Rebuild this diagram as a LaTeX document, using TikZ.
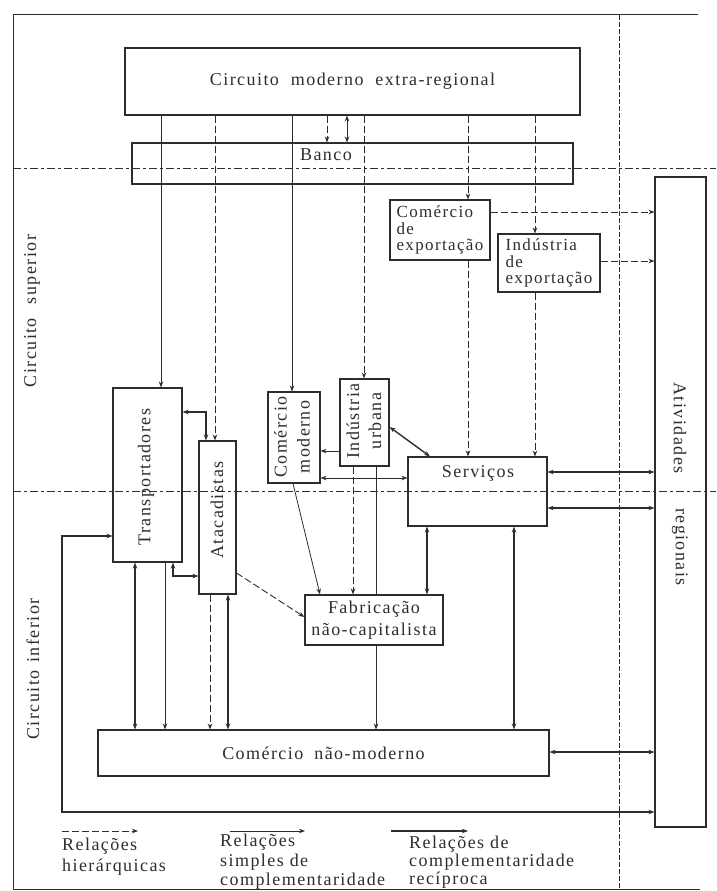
\documentclass[tikz,border=0pt]{standalone}
\usepackage{fontspec}
\setmainfont{Liberation Serif}[LetterSpace=8]
\usetikzlibrary{arrows.meta}
\definecolor{ink}{RGB}{45,45,45}
\tikzset{
  box/.style={draw=ink, line width=1.1pt, inner sep=0pt, text=ink, font=\fontsize{18}{16}\selectfont},
  lbl/.style={text=ink, inner sep=0pt, font=\fontsize{18}{20}\selectfont},
  tip/.tip={Stealth[length=6pt,width=4.5pt]},
  hier/.style={draw=ink, line width=0.9pt, dash pattern=on 7pt off 3pt, -tip},
  simp/.style={draw=ink, line width=0.8pt, -tip},
  plain/.style={draw=ink, line width=0.8pt},
  recip/.style={draw=ink, line width=1.4pt, tip-tip},
  recipone/.style={draw=ink, line width=1.4pt, -tip},
  divider/.style={draw=ink, line width=0.9pt, dash pattern=on 8pt off 3pt on 3pt off 3pt},
  vdivider/.style={draw=ink, line width=0.8pt, dash pattern=on 5pt off 2pt},
}
\begin{document}
\begin{tikzpicture}[x=1pt,y=-1pt]
\useasboundingbox (0,0) rectangle (716,891);
% frame
\draw[ink, line width=1pt] (698,15) -- (13,15) -- (13,889) -- (700,889);
% boxes
\node[box, minimum width=455, minimum height=67] (ext) at (352.5,81.5) {Circuito\hspace{6pt} moderno\hspace{6pt} extra-regional};
\node[box, minimum width=441, minimum height=41] (banco) at (352.5,163.5) {};
\node[lbl] (bancotxt) at (326,155) {Banco};
\node[box, minimum width=100, minimum height=60, align=left, font=\fontsize{17}{16.5}\selectfont] (comexp) at (440,230) {Comércio\\de\\exportação};
\node[box, minimum width=102, minimum height=58, align=left, font=\fontsize{17}{16.5}\selectfont] (indexp) at (549,263) {Indústria\\de\\exportação};
\node[box, minimum width=51, minimum height=650] (ativ) at (680.5,502) {};
\node[lbl, rotate=-90] (ativ1) at (680,428) {Atividades};
\node[lbl, rotate=-90] (ativ2) at (680,547) {regionais};
\node[box, minimum width=69, minimum height=174] (trans) at (147.5,475) {};
\node[lbl, rotate=90] (transtxt) at (146,477) {Transportadores};
\node[box, minimum width=37, minimum height=153] (atac) at (217.5,517.5) {};
\node[lbl, rotate=90] (atactxt) at (217,510) {Atacadistas};
\node[box, minimum width=52, minimum height=91] (commod) at (294,437.5) {};
\node[lbl, rotate=90, align=center, font=\fontsize{18}{23}\selectfont] (commodtxt) at (292,437) {Comércio\\moderno};
\node[box, minimum width=49, minimum height=87] (indurb) at (364.5,422.5) {};
\node[lbl, rotate=90, align=center, font=\fontsize{18}{22}\selectfont] (indurbtxt) at (364,421) {Indústria\\urbana};
\node[box, minimum width=139, minimum height=69] (serv) at (477.5,491.5) {};
\node[lbl] (servtxt) at (478,473) {Serviços};
\node[box, minimum width=138, minimum height=50, align=center, font=\fontsize{18}{22}\selectfont] (fab) at (374,620) {Fabricação\\não-capitalista};
\node[box, minimum width=451, minimum height=46] (comnm) at (323.5,753) {Comércio\hspace{5pt} não-moderno};
% side labels
\node[lbl, rotate=90] (csup) at (32,311) {Circuito\hspace{14pt}superior};
\node[lbl, rotate=90] (cinf) at (33,669) {Circuito\hspace{8pt}inferior};
% dividers
\coordinate (dl1) at (13,168); \coordinate (dr1) at (716,168);
\coordinate (dl2) at (13,491); \coordinate (dr2) at (716,491);
\coordinate (dt) at (619,15); \coordinate (db) at (619,889);
\draw[divider] (dl1) -- (dr1);
\draw[divider] (dl2) -- (dr2);
\draw[vdivider] (dt) -- (db);
% from extra-regional circuit
\draw[simp] (ext.south -| 161,0) -- (trans.north -| 161,0);
\draw[hier] (ext.south -| 215,0) -- (atac.north -| 215,0);
\draw[simp] (ext.south -| 292,0) -- (commod.north -| 292,0);
\draw[hier] (ext.south -| 364,0) -- (indurb.north -| 364,0);
\draw[hier] (ext.south -| 468,0) -- (comexp.north -| 468,0);
\draw[hier] (ext.south -| 535,0) -- (indexp.north -| 535,0);
\draw[hier] (ext.south -| 327,0) -- (banco.north -| 327,0);
\draw[recip, line width=1pt] (ext.south -| 347,0) -- (banco.north -| 347,0);
% export sector
\draw[hier] (comexp.south -| 468,0) -- (serv.north -| 468,0);
\draw[hier] (indexp.south -| 535,0) -- (serv.north -| 535,0);
\draw[hier] (comexp.east |- 0,212) -- (ativ.west |- 0,212);
\draw[hier] (indexp.east |- 0,261) -- (ativ.west |- 0,261);
% transportadores / atacadistas
\draw[recip] (trans.east |- 0,412) -| (atac.north -| 206,0);
\draw[recip] (trans.south -| 173,0) |- (atac.west |- 0,576);
\coordinate (loopA) at (62,536); \coordinate (loopB) at (62,812);
\draw[recip] (trans.west |- loopA) -- (loopA) -- (loopB) -- (ativ.west |- loopB);
\draw[recip] (trans.south -| 135,0) -- (comnm.north -| 135,0);
\draw[simp] (trans.south -| 165,0) -- (comnm.north -| 165,0);
\draw[hier] (atac.south -| 210,0) -- (comnm.north -| 210,0);
\draw[recip] (atac.south -| 228,0) -- (comnm.north -| 228,0);
\draw[hier] (atac.east |- 0,573) -- (fab.west |- 0,617);
% modern trade / urban industry
\draw[simp] (commod.south -| 293,0) -- (fab.north -| 320,0);
\draw[simp] (indurb.west |- 0,451) -- (commod.east |- 0,451);
\draw[recip, line width=1pt] (commod.east |- 0,478) -- (serv.west |- 0,478);
\draw[recip] (indurb.east |- 0,427) -- (serv.north -| 430,0);
\draw[hier] (indurb.south -| 353,0) -- (fab.north -| 353,0);
\draw[plain] (indurb.south -| 376,0) -- (fab.north -| 376,0);
\draw[simp] (fab.south -| 376,0) -- (comnm.north -| 376,0);
% services
\draw[recip] (serv.south -| 427,0) -- (fab.north -| 427,0);
\draw[recip] (serv.south -| 514,0) -- (comnm.north -| 514,0);
\draw[recip] (serv.east |- 0,472) -- (ativ.west |- 0,472);
\draw[recip] (serv.east |- 0,508) -- (ativ.west |- 0,508);
\draw[recip] (comnm.east |- 0,752) -- (ativ.west |- 0,752);
% legend
\coordinate (lg1a) at (62,831); \coordinate (lg1b) at (138,831);
\coordinate (lg2a) at (230,831); \coordinate (lg2b) at (305,831);
\coordinate (lg3a) at (391,831); \coordinate (lg3b) at (468,831);
\draw[hier] (lg1a) -- (lg1b);
\draw[simp] (lg2a) -- (lg2b);
\draw[recipone] (lg3a) -- (lg3b);
\node[lbl, align=left, anchor=north west, font=\fontsize{18}{21}\selectfont] (lt1) at (62,838) {Relações\\hierárquicas};
\node[lbl, align=left, anchor=north west, font=\fontsize{18}{19.5}\selectfont] (lt2) at (220,834) {Relações\\simples de\\complementaridade};
\node[lbl, align=left, anchor=north west, font=\fontsize{18}{18}\selectfont] (lt3) at (409,836) {Relações de\\complementaridade\\recíproca};
\end{tikzpicture}
\end{document}
